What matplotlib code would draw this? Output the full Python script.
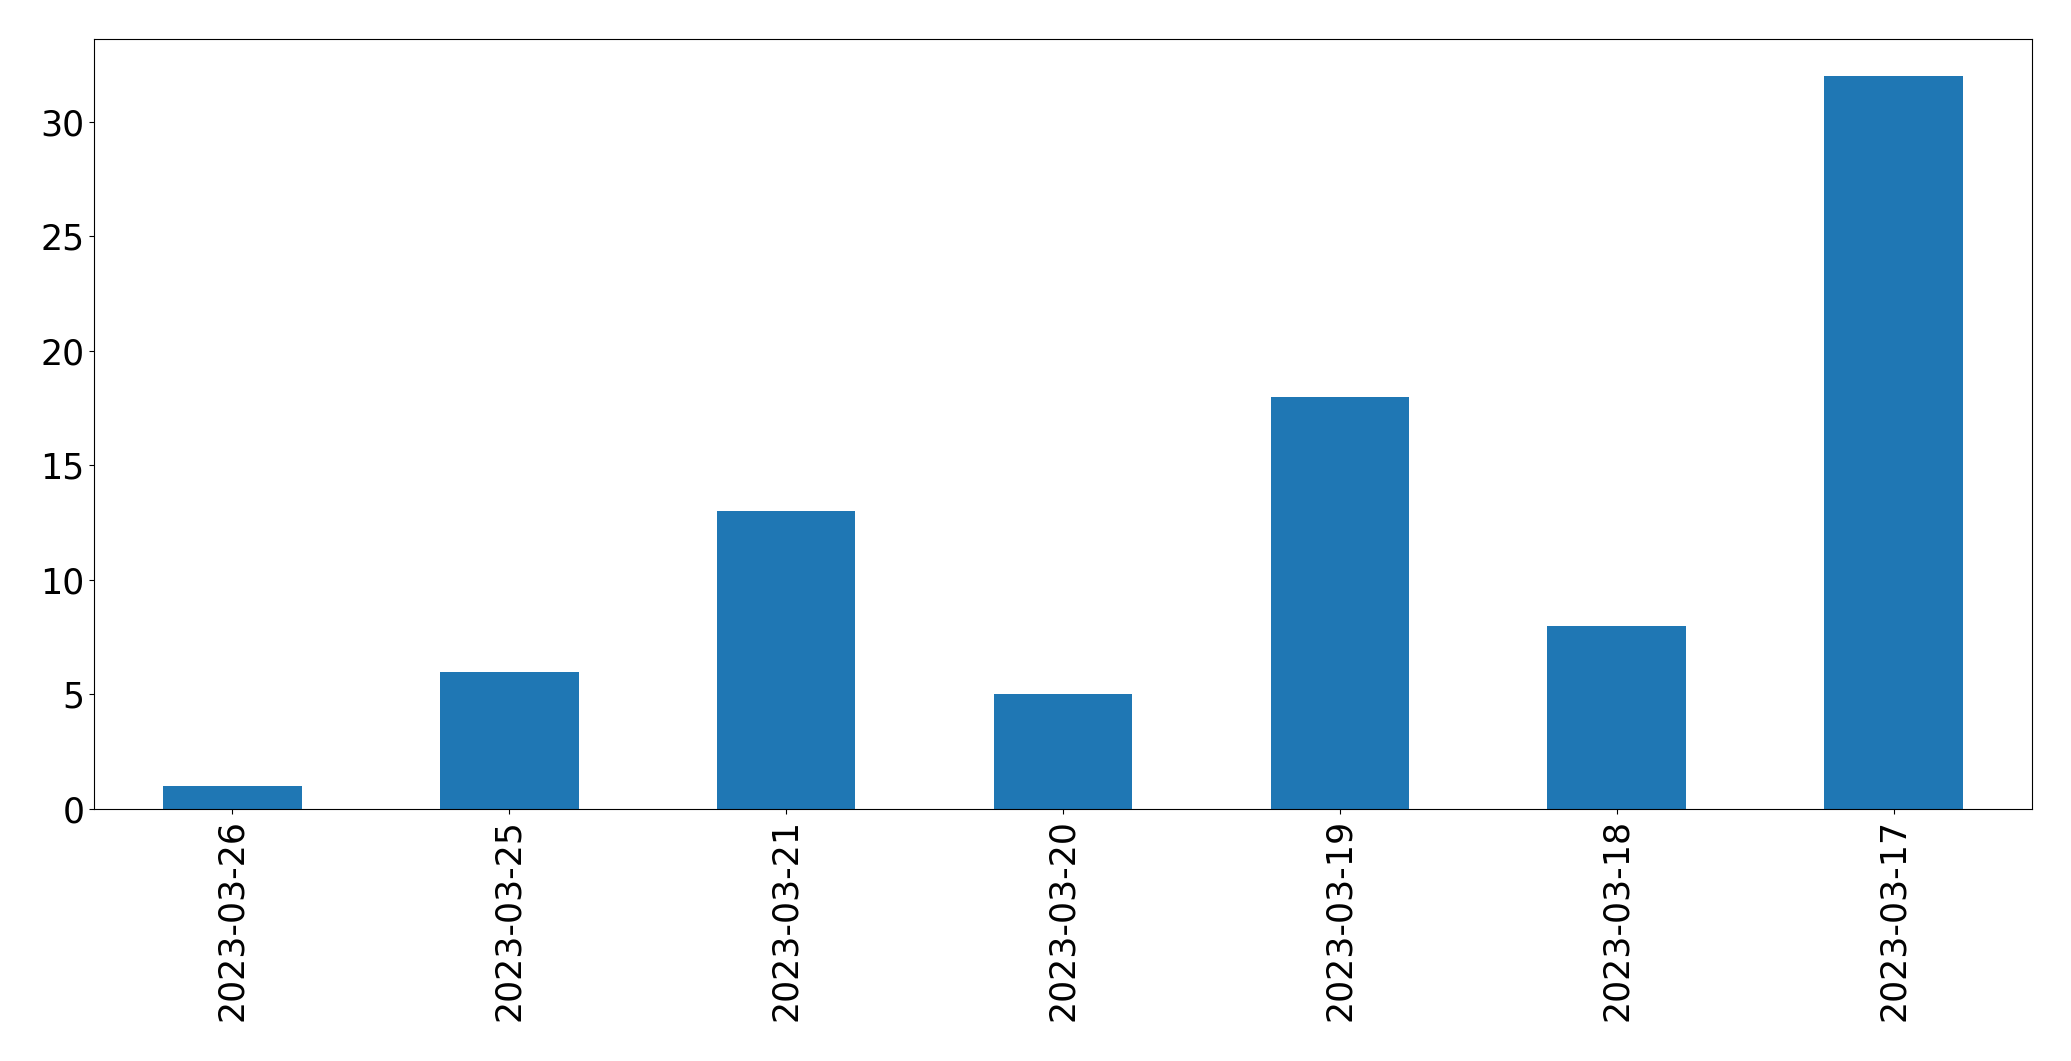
import pandas as pd
import matplotlib.pyplot as plt

dates = ['2023-03-26', '2023-03-25', '2023-03-21', '2023-03-20',
         '2023-03-19', '2023-03-18', '2023-03-17']
counts = [1, 6, 13, 5, 18, 8, 32]

s = pd.Series(counts, index=dates)

fig = plt.figure(figsize=(20.71, 10.61), dpi=100)
ax = fig.add_axes([94 / 2071, 1 - 809 / 1061, (2032 - 94) / 2071, (809 - 39) / 1061])
s.plot(kind='bar', ax=ax, color='#1f77b4')
ax.tick_params(axis='both', labelsize=25)

plt.savefig('out.png')
